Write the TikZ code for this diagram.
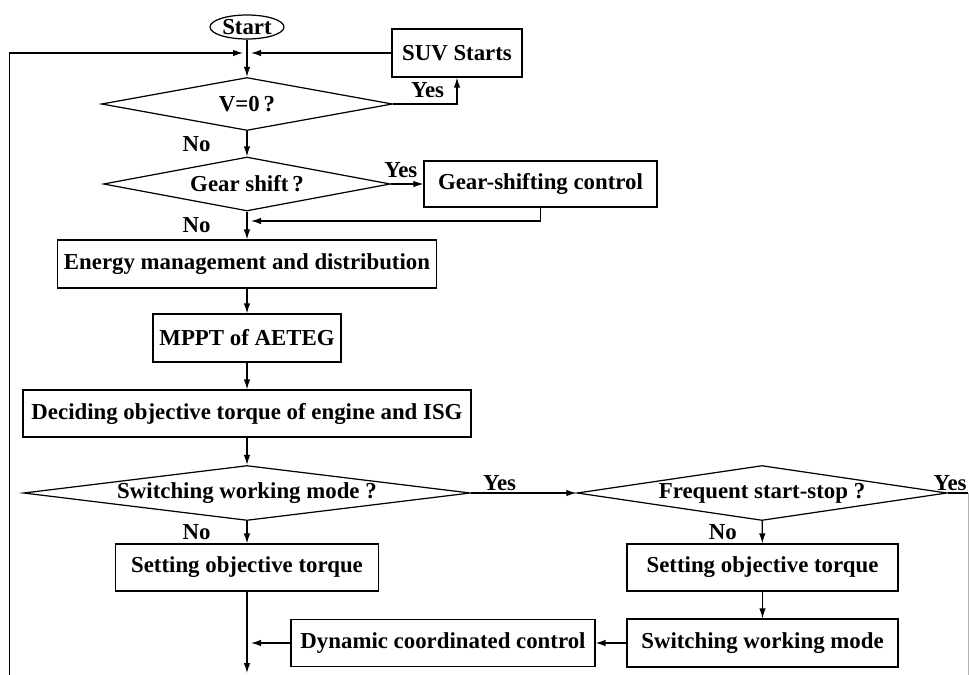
\documentclass[tikz,border=0pt]{standalone}
\usepackage{fontspec}
\setmainfont{Liberation Serif}
\usetikzlibrary{shapes.geometric, arrows.meta, positioning}

\begin{document}
\begin{tikzpicture}[x=0.02cm, y=-0.02cm, line width=0.7pt,
    >={Latex[length=2mm, width=1.3mm]},
    font=\fontsize{13}{15}\selectfont\bfseries,
    term/.style={draw, ellipse, inner sep=0pt, text height=8pt, text depth=0pt,
      minimum width=1.48cm, minimum height=0.48cm},
    box/.style={draw, rectangle, inner sep=2pt, minimum height=0.94cm},
    decision/.style={draw, diamond, inner sep=0pt, minimum height=1.08cm},
    lbl/.style={inner sep=1pt}]
  \useasboundingbox (0,0) rectangle (969,675);
  \clip (0,0) rectangle (969,675);
  \node[term] (start) at (247,27) {Start};
  \node[box, minimum width=2.6cm, minimum height=0.96cm] (suv) at (457,53) {SUV Starts};
  \node[decision, minimum width=5.82cm, minimum height=1.06cm, aspect=5.4] (v0) at (247,104) {V=0\,?};
  \node[decision, minimum width=5.74cm, aspect=5.3] (gear) at (247,184) {Gear shift\,?};
  \node[box, minimum width=4.66cm, minimum height=0.92cm] (gsc) at (540.5,184) {Gear-shifting control};
  \node[box, minimum width=7.58cm, minimum height=0.96cm] (energy) at (247,264) {Energy management and distribution};
  \node[box, minimum width=3.76cm, minimum height=0.96cm] (mppt) at (247,338) {MPPT of AETEG};
  \node[box, minimum width=8.96cm] (decide) at (247,413.5) {Deciding objective torque of engine and ISG};
  \node[decision, minimum width=8.94cm, minimum height=1.1cm, aspect=8.1] (swm) at (247,493) {Switching working mode ?};
  \node[decision, minimum width=7.4cm, minimum height=1.1cm, aspect=6.7] (freq) at (762,493) {Frequent start-stop ?};
  \node[box, minimum width=5.26cm] (setl) at (247,567.5) {Setting objective torque};
  \node[box, minimum width=5.42cm] (setr) at (762.5,567.5) {Setting objective torque};
  \node[box, minimum width=5.42cm, minimum height=0.96cm] (swbox) at (762.5,643) {Switching working mode};
  \node[box, minimum width=6.08cm] (dyn) at (443,643) {Dynamic coordinated control};
  \coordinate (lbot) at (9.5,675);
  \coordinate (jl) at (243,53);
  \coordinate (jr) at (251,53);
  \coordinate (jg) at (251,221);
  \coordinate (jd) at (251,643);
  \coordinate (bot) at (247,673);
  \coordinate (redge) at (968,493);
  \coordinate (rdown) at (968,675);
  \draw[->] (start) -- (v0);
  \draw[->] (lbot) |- (jl);
  \draw[->] (suv) -- (jr);
  \draw[->] (v0.east) -| node[lbl, above, yshift=2pt, pos=0.27] {Yes} (suv.south);
  \draw[->] (gsc.south) |- (jg);
  \draw[->] (dyn) -- (jd);
  \path[->]
    (v0) edge node[lbl, left=0.68cm] {No} (gear)
    (gear) edge node[lbl, above, yshift=2pt, pos=0.3] {Yes} (gsc)
         edge node[lbl, left=0.68cm] {No} (energy)
    (energy) edge (mppt)
    (mppt) edge (decide)
    (decide) edge (swm)
    (swm) edge node[lbl, above, pos=0.27] {Yes} (freq)
        edge node[lbl, left=0.68cm] {No} (setl)
    (freq) edge node[lbl, left=0.46cm] {No} (setr)
    (setr) edge (swbox)
    (swbox) edge (dyn)
    (setl) edge (bot);
  \draw (freq.east) -- node[lbl, above, pos=0.12] {Yes} (redge);
  \draw[black!30, line width=0.5pt] (redge) -- (rdown);
\end{tikzpicture}
\end{document}
